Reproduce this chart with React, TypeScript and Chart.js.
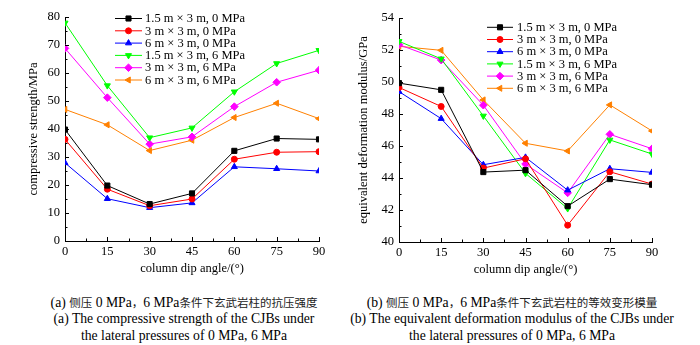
import React, { useEffect, useRef } from 'react';
import { Chart, registerables } from 'chart.js';
import { drawPoint } from 'chart.js/helpers';

Chart.register(...registerables);

// ---- data ----
const angles = [0, 15, 30, 45, 60, 75, 90];
const seriesLabels = [
  '1.5 m × 3 m, 0 MPa',
  '3 m × 3 m, 0 MPa',
  '6 m × 3 m, 0 MPa',
  '1.5 m × 3 m, 6 MPa',
  '3 m × 3 m, 6 MPa',
  '6 m × 3 m, 6 MPa',
];

const strength_1_5x3_0 = [39.8, 19.8, 13.2, 17.0, 32.2, 36.6, 36.3];
const strength_3x3_0 = [36.3, 18.5, 12.6, 15.0, 29.2, 31.7, 31.9];
const strength_6x3_0 = [27.9, 15.1, 11.9, 13.6, 26.5, 25.8, 25.0];
const strength_1_5x3_6 = [77.9, 55.5, 36.9, 40.4, 53.3, 63.4, 68.1];
const strength_3x3_6 = [68.8, 51.2, 34.6, 37.2, 48.0, 56.7, 61.0];
const strength_6x3_6 = [47.0, 41.5, 32.3, 36.0, 44.1, 49.2, 43.7];

const modulus_1_5x3_0 = [49.93, 49.51, 44.37, 44.49, 42.24, 43.93, 43.58];
const modulus_3x3_0 = [49.66, 48.47, 44.62, 45.2, 41.05, 44.39, 43.62];
const modulus_6x3_0 = [49.4, 47.71, 44.83, 45.29, 43.24, 44.58, 44.35];
const modulus_1_5x3_6 = [52.54, 51.45, 47.88, 44.29, 42.09, 46.38, 45.5];
const modulus_3x3_6 = [52.33, 51.37, 48.55, 44.87, 43.07, 46.73, 45.83];
const modulus_6x3_6 = [52.23, 51.98, 48.88, 46.17, 45.69, 48.57, 46.94];

const strengthSeries = [strength_1_5x3_0, strength_3x3_0, strength_6x3_0, strength_1_5x3_6, strength_3x3_6, strength_6x3_6];
const modulusSeries = [modulus_1_5x3_0, modulus_3x3_0, modulus_6x3_0, modulus_1_5x3_6, modulus_3x3_6, modulus_6x3_6];

const xTicks = { min: 0, max: 90, step: 15 };
const strengthTicks = { min: 0, max: 80, step: 10 };
const modulusTicks = { min: 40, max: 54, step: 2 };

// ---- styles ----
const colors = ['#000000', '#ff0000', '#0000ff', '#00ff00', '#ff00ff', '#ff8000'];
const pointStyles = ['rect', 'circle', 'triangle', 'triangle', 'rectRot', 'triangle'];
const rotations = [0, 0, 0, 180, 0, 270];
const radii = [3.6, 3, 3.5, 3.5, 3.8, 3.5];

const FONT = '"Liberation Serif", "DejaVu Serif", serif';

const inwardTicks = {
  id: 'inwardTicks',
  afterDatasetsDraw(chart: any, _args: any, opts: any) {
    const { ctx, chartArea } = chart;
    const xs = chart.scales.x;
    const ys = chart.scales.y;
    ctx.save();
    ctx.strokeStyle = '#000';
    ctx.lineWidth = 1;
    ctx.beginPath();
    const isMajor = (v: number, step: number, base: number) => {
      const r = (v - base) / step;
      return Math.abs(r - Math.round(r)) < 1e-6;
    };
    for (let v = xs.min; v <= xs.max + 1e-9; v += opts.xMinor) {
      const px = Math.round(xs.getPixelForValue(v)) + 0.5;
      const len = isMajor(v, opts.xMajor, xs.min) ? 4 : 2.5;
      ctx.moveTo(px, chartArea.bottom);
      ctx.lineTo(px, chartArea.bottom - len);
    }
    for (let v = ys.min; v <= ys.max + 1e-9; v += opts.yMinor) {
      const py = Math.round(ys.getPixelForValue(v)) + 0.5;
      const len = isMajor(v, opts.yMajor, ys.min) ? 4 : 2.5;
      ctx.moveTo(chartArea.left, py);
      ctx.lineTo(chartArea.left + len, py);
    }
    ctx.stroke();
    ctx.restore();
  },
};

const lineLegend = {
  id: 'lineLegend',
  afterDraw(chart: any, _args: any, opts: any) {
    const { ctx } = chart;
    ctx.save();
    chart.data.datasets.forEach((ds: any, i: number) => {
      const y = opts.y0 + i * opts.dy;
      ctx.strokeStyle = ds.borderColor;
      ctx.lineWidth = 1;
      ctx.beginPath();
      ctx.moveTo(opts.x0, y);
      ctx.lineTo(opts.x1, y);
      ctx.stroke();
      ctx.fillStyle = ds.pointBackgroundColor;
      ctx.strokeStyle = ds.borderColor;
      drawPoint(ctx, { pointStyle: ds.pointStyle, rotation: ds.pointRotation, radius: ds.pointRadius, borderWidth: 1 }, (opts.x0 + opts.x1) / 2, y);
      ctx.fillStyle = '#000';
      ctx.font = opts.font;
      ctx.textAlign = 'left';
      ctx.textBaseline = 'middle';
      ctx.fillText(ds.label, opts.textX, y + 0.5);
    });
    ctx.restore();
  },
};

function makeDatasets(series: number[][]) {
  return series.map((vals, i) => ({
    label: seriesLabels[i],
    data: angles.map((a, j) => ({ x: a, y: vals[j] })),
    borderColor: colors[i],
    backgroundColor: colors[i],
    pointBackgroundColor: colors[i],
    pointBorderColor: colors[i],
    pointStyle: pointStyles[i],
    pointRotation: rotations[i],
    pointRadius: radii[i],
    borderWidth: 1,
    tension: 0,
  }));
}

type Cfg = {
  series: number[][];
  yTicks: { min: number; max: number; step: number };
  yTitle: string;
  yWidth: number;
  yTitlePad: number;
  padRight: number;
  padTop: number;
  xHeight: number;
  xTitlePad: number;
  yMinor: number;
  legend: { x0: number; x1: number; textX: number; y0: number; dy: number };
  width: number;
  height: number;
};

function LineChart({ cfg }: { cfg: Cfg }) {
  const ref = useRef<HTMLCanvasElement | null>(null);
  useEffect(() => {
    if (!ref.current) return;
    const chart = new Chart(ref.current, {
      type: 'line',
      data: { datasets: makeDatasets(cfg.series) as any },
      plugins: [inwardTicks as any, lineLegend as any],
      options: {
        animation: false,
        responsive: false,
        devicePixelRatio: 1,
        layout: { padding: { left: 0, right: cfg.padRight, top: cfg.padTop, bottom: 0 } },
        plugins: {
          legend: { display: false },
          tooltip: { enabled: false },
          inwardTicks: { xMajor: xTicks.step, xMinor: xTicks.step / 2, yMajor: cfg.yTicks.step, yMinor: cfg.yMinor },
          lineLegend: { ...cfg.legend, font: `12.5px ${FONT}` },
        } as any,
        scales: {
          x: {
            type: 'linear',
            min: xTicks.min,
            max: xTicks.max,
            afterFit: (s: any) => { s.height = cfg.xHeight; },
            grid: { display: false, drawTicks: false },
            border: { display: true, color: '#000', width: 1 },
            ticks: { stepSize: xTicks.step, color: '#000', padding: 3, font: { family: FONT, size: 12.5 } },
            title: { display: true, text: 'column dip angle/(°)', color: '#000', font: { family: FONT, size: 12.5 }, padding: { top: 0, bottom: cfg.xTitlePad } },
          },
          y: {
            type: 'linear',
            min: cfg.yTicks.min,
            max: cfg.yTicks.max,
            afterFit: (s: any) => { s.width = cfg.yWidth; },
            grid: { display: false, drawTicks: false },
            border: { display: true, color: '#000', width: 1 },
            ticks: { stepSize: cfg.yTicks.step, color: '#000', padding: 5, font: { family: FONT, size: 12.5 } },
            title: { display: true, text: cfg.yTitle, color: '#000', font: { family: FONT, size: 12.5 }, padding: { top: cfg.yTitlePad, bottom: 0 } },
          },
        },
      } as any,
    });
    return () => chart.destroy();
  }, [cfg]);
  return <canvas ref={ref} width={cfg.width} height={cfg.height} style={{ width: cfg.width, height: cfg.height, display: 'block' }} />;
}

const leftCfg: Cfg = {
  series: strengthSeries,
  yTicks: strengthTicks,
  yTitle: 'compressive strength/MPa',
  yWidth: 65,
  yTitlePad: 26,
  padRight: 21,
  padTop: 17,
  xHeight: 49,
  xTitlePad: 14,
  yMinor: 5,
  legend: { x0: 115, x1: 142, textX: 145, y0: 18.5, dy: 12.3 },
  width: 340,
  height: 290,
};

const rightCfg: Cfg = {
  series: modulusSeries,
  yTicks: modulusTicks,
  yTitle: 'equivalent deformation modulus/GPa',
  yWidth: 59,
  yTitlePad: 16,
  padRight: 48,
  padTop: 18,
  xHeight: 48,
  xTitlePad: 13,
  yMinor: 1,
  legend: { x0: 147, x1: 173, textX: 177, y0: 27.3, dy: 12.2 },
  width: 360,
  height: 290,
};

const captionStyle: React.CSSProperties = {
  position: 'absolute',
  top: 294,
  textAlign: 'center',
  fontFamily: '"Liberation Serif", serif',
  fontSize: 13.7,
  lineHeight: '16.3px',
  color: '#000',
  whiteSpace: 'nowrap',
  transform: 'translateX(-50%)',
};

const cjk: React.CSSProperties = { fontFamily: '"Noto Sans CJK SC", sans-serif', fontSize: 11.5, color: '#222' };

export default function App() {
  return (
    <div style={{ position: 'absolute', left: 0, top: 0, width: 700, height: 345, background: '#fff', overflow: 'hidden' }}>
      <div style={{ position: 'absolute', left: 0, top: 0 }}>
        <LineChart cfg={leftCfg} />
      </div>
      <div style={{ position: 'absolute', left: 340, top: 0 }}>
        <LineChart cfg={rightCfg} />
      </div>
      <div style={{ ...captionStyle, left: 184 }}>
        <div>(a) <span style={cjk}>侧压</span> 0 MPa<span style={cjk}>，</span>6 MPa<span style={cjk}>条件下玄武岩柱的抗压强度</span></div>
        <div>(a) The compressive strength of the CJBs under</div>
        <div>the lateral pressures of 0 MPa, 6 MPa</div>
      </div>
      <div style={{ ...captionStyle, left: 512 }}>
        <div>(b) <span style={cjk}>侧压</span> 0 MPa<span style={cjk}>，</span>6 MPa<span style={cjk}>条件下玄武岩柱的等效变形模量</span></div>
        <div>(b) The equivalent deformation modulus of the CJBs under</div>
        <div>the lateral pressures of 0 MPa, 6 MPa</div>
      </div>
    </div>
  );
}
